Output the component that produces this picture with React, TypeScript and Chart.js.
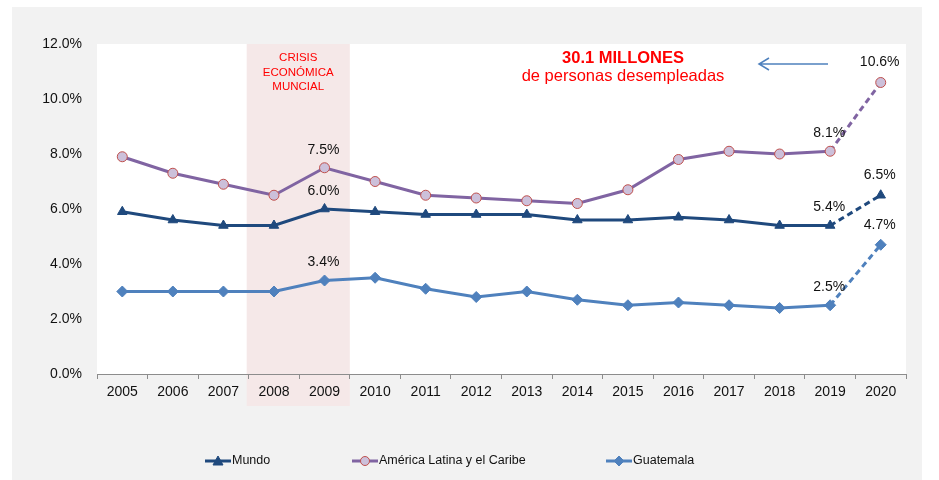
import React, { useEffect, useRef } from "react";
import { Chart, registerables } from "chart.js";

Chart.register(...registerables);

const years = ["2005", "2006", "2007", "2008", "2009", "2010", "2011", "2012", "2013", "2014", "2015", "2016", "2017", "2018", "2019", "2020"];
const mundo = [5.9, 5.6, 5.4, 5.4, 6.0, 5.9, 5.8, 5.8, 5.8, 5.6, 5.6, 5.7, 5.6, 5.4, 5.4, 6.5];
const america = [7.9, 7.3, 6.9, 6.5, 7.5, 7.0, 6.5, 6.4, 6.3, 6.2, 6.7, 7.8, 8.1, 8.0, 8.1, 10.6];
const guatemala = [3.0, 3.0, 3.0, 3.0, 3.4, 3.5, 3.1, 2.8, 3.0, 2.7, 2.5, 2.6, 2.5, 2.4, 2.5, 4.7];
const labelIndices = [4, 14, 15];
const crisisYears = ["2008", "2009"];
const crisisText = ["CRISIS", "ECONÓMICA", "MUNCIAL"];
const noteTitle = "30.1 MILLONES";
const noteSub = "de personas desempleadas";

const FONT = "'Liberation Sans', Arial, sans-serif";

const decorPlugin = {
  id: "decor",
  beforeDraw(chart: any) {
    const { ctx, chartArea, scales } = chart;
    const x = scales.x;
    ctx.save();
    ctx.fillStyle = "#f2f2f2";
    ctx.fillRect(12, 7, 910, 473);
    ctx.fillStyle = "#ffffff";
    ctx.fillRect(chartArea.left, chartArea.top, chartArea.right - chartArea.left, chartArea.bottom - chartArea.top);
    const half = (x.getPixelForValue(1) - x.getPixelForValue(0)) / 2;
    const x0 = x.getPixelForValue(years.indexOf(crisisYears[0])) - half - 2;
    const x1 = x.getPixelForValue(years.indexOf(crisisYears[1])) + half;
    ctx.fillStyle = "#f5e8e8";
    ctx.fillRect(x0, chartArea.top, x1 - x0, 406 - chartArea.top);
    ctx.restore();
  },
  afterDraw(chart: any) {
    const { ctx, scales } = chart;
    const x = scales.x;
    ctx.save();
    // crisis text
    const cx = (x.getPixelForValue(years.indexOf(crisisYears[0])) + x.getPixelForValue(years.indexOf(crisisYears[1]))) / 2 - 1;
    ctx.fillStyle = "#ff0000";
    ctx.font = `11.5px ${FONT}`;
    ctx.textAlign = "center";
    ctx.textBaseline = "middle";
    crisisText.forEach((t, i) => ctx.fillText(t, cx, 58 + i * 14.5));
    // note
    ctx.font = `bold 16.5px ${FONT}`;
    ctx.fillText(noteTitle, 623, 58);
    ctx.font = `16.5px ${FONT}`;
    ctx.fillText(noteSub, 623, 76);
    // arrow
    ctx.strokeStyle = "#4f81bd";
    ctx.lineWidth = 1.5;
    ctx.beginPath();
    ctx.moveTo(828, 64);
    ctx.lineTo(759, 64);
    ctx.moveTo(769, 58);
    ctx.lineTo(759, 64);
    ctx.lineTo(769, 70);
    ctx.stroke();
    // data labels
    ctx.fillStyle = "#111111";
    ctx.font = `14px ${FONT}`;
    chart.data.datasets.forEach((ds: any, di: number) => {
      const meta = chart.getDatasetMeta(di);
      labelIndices.forEach((idx) => {
        const pt = meta.data[idx];
        const off = idx === 15 ? 20 : 18;
        ctx.fillText(ds.data[idx].toFixed(1) + "%", pt.x - 1, pt.y - off);
      });
    });
    // legend
    const legendX = [205, 352, 606];
    const ly = 461;
    chart.data.datasets.forEach((ds: any, di: number) => {
      const lx = legendX[di];
      ctx.strokeStyle = ds.borderColor;
      ctx.lineWidth = 3;
      ctx.setLineDash([]);
      ctx.beginPath();
      ctx.moveTo(lx, ly);
      ctx.lineTo(lx + 26, ly);
      ctx.stroke();
      const mx = lx + 13;
      ctx.fillStyle = ds.pointBackgroundColor;
      ctx.strokeStyle = ds.pointBorderColor;
      ctx.lineWidth = 1;
      ctx.beginPath();
      if (ds.pointStyle === "triangle") {
        ctx.moveTo(mx, ly - 5);
        ctx.lineTo(mx + 5, ly + 4);
        ctx.lineTo(mx - 5, ly + 4);
        ctx.closePath();
      } else if (ds.pointStyle === "rectRot") {
        ctx.moveTo(mx, ly - 5);
        ctx.lineTo(mx + 5, ly);
        ctx.lineTo(mx, ly + 5);
        ctx.lineTo(mx - 5, ly);
        ctx.closePath();
      } else {
        ctx.arc(mx, ly, 4.5, 0, Math.PI * 2);
      }
      ctx.fill();
      ctx.stroke();
      ctx.fillStyle = "#111111";
      ctx.textAlign = "left";
      ctx.font = `12.5px ${FONT}`;
      ctx.fillText(ds.label, lx + 27, ly);
    });
    ctx.restore();
  },
};

const dashLast = (ctx: any) => (ctx.p1DataIndex === years.length - 1 ? [6, 4] : undefined);

export default function App() {
  const ref = useRef<HTMLCanvasElement | null>(null);
  useEffect(() => {
    if (!ref.current) return;
    const chart = new Chart(ref.current, {
      type: "line",
      data: {
        labels: years,
        datasets: [
          {
            label: "Mundo",
            data: mundo,
            borderColor: "#1f497d",
            backgroundColor: "#1f497d",
            pointBackgroundColor: "#1f497d",
            pointBorderColor: "#1f497d",
            pointStyle: "triangle",
            pointRadius: 5.5,
            borderWidth: 3,
            pointBorderWidth: 1,
            tension: 0,
            segment: { borderDash: dashLast },
          } as any,
          {
            label: "América Latina y el Caribe",
            data: america,
            borderColor: "#8064a2",
            backgroundColor: "#ccc0da",
            pointBackgroundColor: "#ccc0da",
            pointBorderColor: "#c0504d",
            pointStyle: "circle",
            pointRadius: 5,
            borderWidth: 3,
            pointBorderWidth: 1,
            tension: 0,
            segment: { borderDash: dashLast },
          } as any,
          {
            label: "Guatemala",
            data: guatemala,
            borderColor: "#4f81bd",
            backgroundColor: "#4f81bd",
            pointBackgroundColor: "#4f81bd",
            pointBorderColor: "#4f81bd",
            pointStyle: "rectRot",
            pointRadius: 5.5,
            borderWidth: 3,
            pointBorderWidth: 1,
            tension: 0,
            segment: { borderDash: dashLast },
          } as any,
        ],
      },
      options: {
        animation: false,
        responsive: false,
        layout: { padding: { left: 12, top: 44, right: 33, bottom: 0 } },
        plugins: { legend: { display: false }, tooltip: { enabled: false } },
        scales: {
          x: {
            offset: true,
            afterFit: (s: any) => {
              s.height = 106;
            },
            grid: { display: true, offset: true, drawOnChartArea: false, drawTicks: true, tickLength: 5, color: "#8c8c8c" },
            border: { display: true, color: "#8c8c8c", width: 1 },
            ticks: { color: "#111111", font: { family: FONT, size: 14 }, padding: 5, maxRotation: 0 },
          },
          y: {
            min: 0,
            max: 12,
            afterFit: (s: any) => {
              s.width = 85;
            },
            grid: { display: false, drawTicks: false },
            border: { display: false },
            ticks: {
              stepSize: 2,
              color: "#111111",
              font: { family: FONT, size: 14 },
              padding: 15,
              callback: (v: any) => Number(v).toFixed(1) + "%",
            },
          },
        },
      } as any,
      plugins: [decorPlugin],
    });
    return () => chart.destroy();
  }, []);
  return (
    <div style={{ position: "absolute", left: 0, top: 0, width: 939, height: 480 }}>
      <canvas ref={ref} width={939} height={480} style={{ width: 939, height: 480 }} />
    </div>
  );
}
